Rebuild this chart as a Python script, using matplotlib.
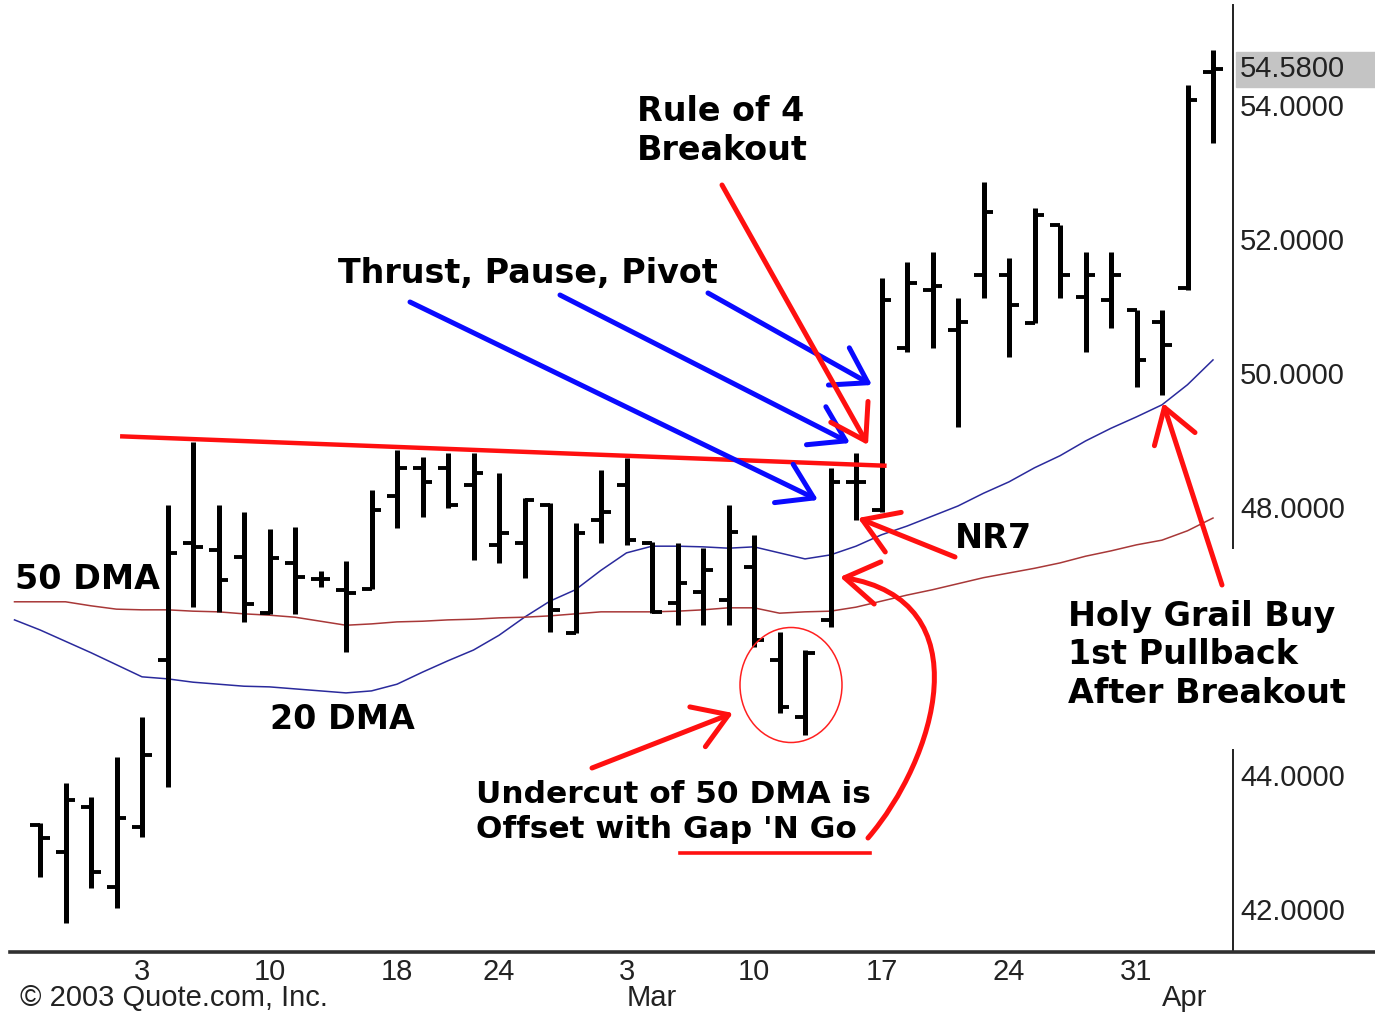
import matplotlib.pyplot as plt
from matplotlib.patches import FancyArrowPatch, Ellipse, ArrowStyle
from matplotlib.path import Path
import numpy as np

# daily OHLC bars, 28 Jan .. 3 Apr 2003
opens = [43.30, 42.90, 43.57, 42.37, 43.27, 45.76, 47.51, 47.40, 47.30, 46.46,
         47.21, 46.97, 46.81, 46.82, 48.21, 48.63, 48.63, 48.37, 47.48, 47.51,
         48.07, 46.16, 47.85, 48.37, 47.51, 46.61, 46.78, 46.66, 47.15, 45.76,
         44.91, 46.36, 48.42, 48.00, 50.42, 51.28, 50.69, 51.51, 51.51, 50.79,
         52.25, 51.18, 51.13, 50.99, 50.81, 51.31, 54.54]
highs = [43.33, 43.93, 43.72, 44.31, 44.91, 48.07, 49.01, 48.07, 47.97, 47.72,
         47.75, 47.09, 47.24, 48.30, 48.90, 48.79, 48.85, 48.85, 48.55, 48.18,
         48.10, 47.81, 48.60, 48.78, 47.52, 47.51, 47.43, 48.07, 47.63, 46.18,
         45.91, 48.63, 48.85, 51.46, 51.70, 51.85, 51.16, 52.90, 51.76, 52.51,
         52.25, 51.85, 51.85, 50.99, 50.99, 54.34, 54.87]
lows = [42.52, 41.84, 42.36, 42.06, 43.12, 43.87, 46.55, 46.48, 46.33, 46.45,
        46.45, 46.85, 45.88, 46.82, 47.73, 47.90, 48.03, 47.25, 47.21, 46.99,
        46.18, 46.16, 47.51, 47.48, 46.46, 46.28, 46.28, 46.28, 45.96, 44.97,
        44.64, 46.25, 47.85, 47.97, 50.36, 50.42, 49.24, 51.16, 50.28, 50.79,
        51.16, 50.36, 50.72, 49.84, 49.72, 51.28, 53.48]
closes = [43.10, 43.67, 42.60, 43.40, 44.34, 47.36, 47.45, 46.96, 46.60, 47.28,
          47.00, 46.97, 46.76, 48.00, 48.63, 48.42, 48.07, 48.55, 47.66, 48.15,
          46.51, 47.66, 47.97, 47.55, 46.48, 46.91, 47.10, 47.67, 46.06, 45.06,
          45.87, 48.42, 48.42, 51.13, 51.39, 51.34, 50.81, 52.45, 51.06, 52.40,
          51.51, 51.51, 51.51, 50.24, 50.46, 54.12, 54.58]

# moving averages, starting one session before the first bar
ma20 = [46.36, 46.21, 46.04, 45.87, 45.69, 45.51, 45.48, 45.43, 45.40, 45.37,
        45.36, 45.33, 45.30, 45.27, 45.30, 45.40, 45.58, 45.75, 45.91, 46.13,
        46.40, 46.64, 46.81, 47.10, 47.36, 47.46, 47.46, 47.45, 47.43, 47.45,
        47.36, 47.27, 47.33, 47.46, 47.63, 47.76, 47.91, 48.06, 48.25, 48.42,
        48.63, 48.81, 49.03, 49.22, 49.39, 49.57, 49.87, 50.24]
ma50 = [46.63, 46.63, 46.63, 46.57, 46.52, 46.51, 46.51, 46.49, 46.48, 46.45,
        46.43, 46.40, 46.34, 46.28, 46.30, 46.33, 46.34, 46.36, 46.37, 46.39,
        46.40, 46.42, 46.45, 46.48, 46.48, 46.48, 46.49, 46.51, 46.54, 46.54,
        46.46, 46.48, 46.49, 46.55, 46.64, 46.73, 46.81, 46.90, 46.99, 47.06,
        47.13, 47.21, 47.31, 47.39, 47.48, 47.55, 47.69, 47.88]

# resistance line drawn across the highs
resistance_x = [3.14, 33.2]
resistance_y = [49.10, 48.66]

day_ticks = [4, 9, 14, 18, 23, 28, 33, 38, 43]
day_labels = ['3', '10', '18', '24', '3', '10', '17', '24', '31']
month_ticks = [23, 44]
month_labels = ['Mar', 'Apr']
price_ticks = [42, 44, 48, 50, 52, 54]
last_price = closes[-1]

W, H = 1375, 1016
fig = plt.figure(figsize=(W / 100, H / 100), dpi=100)
ax = fig.add_axes([0, 0, 1, 1])
ax.set_xlim(-40 / 25.5, (W - 40) / 25.5)
ax.set_ylim(42 - (H - 912) / 67, 42 + 912 / 67)
ax.axis('off')

inv = ax.transData.inverted()


def px(x, y):
    # screen position (top-left origin) -> data coords
    return tuple(inv.transform((x, H - y)))


x = np.arange(len(closes))
xm = np.arange(-1, len(ma20) - 1)

ax.plot(xm, ma20, color='#2a2a9c', lw=1.1, zorder=2)
ax.plot(xm, ma50, color='#a83838', lw=1.1, zorder=2)

bars = ax.vlines(x, lows, highs, color='black', lw=3.6, zorder=3)
bars.set_capstyle('butt')
ax.hlines(opens, x - 0.38, x, color='black', lw=2.8, zorder=3)
ax.hlines(closes, x, x + 0.38, color='black', lw=2.8, zorder=3)

ax.plot(resistance_x, resistance_y, color='#ff1010', lw=3.2,
        solid_capstyle='butt', zorder=4)

# axes lines
x_axis = px(1233, 0)[0]
ax.plot([px(10, 0)[0], px(W, 0)[0]], [px(0, 952)[1]] * 2,
        color='#303030', lw=2.6, zorder=5)
ax.plot([x_axis, x_axis], [px(0, 5)[1], px(0, 548)[1]], color='#202020', lw=1.4)
ax.plot([x_axis, x_axis], [px(0, 750)[1], px(0, 952)[1]], color='#202020', lw=1.4)

tick_font = dict(family=['Liberation Sans', 'DejaVu Sans'], fontsize=21,
                 color='#222222')
lx = px(1240, 0)[0]
for p in price_ticks:
    ax.text(lx, p, f'{p:.4f}', ha='left', va='center', **tick_font)
ax.axhspan(last_price - 0.26, last_price + 0.26, xmin=1236 / W, xmax=1.0,
           color='#c4c4c4', zorder=1)
ax.text(lx, last_price, f'{last_price:.4f}', ha='left', va='center', **tick_font)

yd = px(0, 972)[1]
ym = px(0, 998)[1]
for t, lab in zip(day_ticks, day_labels):
    ax.text(t, yd, lab, ha='center', va='center', **tick_font)
for t, lab in zip(month_ticks, month_labels):
    ax.text(t, ym, lab, ha='left', va='center', **tick_font)
ax.text(*px(20, 998), '\u00a9 2003 Quote.com, Inc.', ha='left', va='center',
        **tick_font)

# annotations
note = dict(family='DejaVu Sans', fontweight='bold', fontsize=24, color='black',
            zorder=6)
ax.text(*px(637, 131), 'Rule of 4\nBreakout', ha='left', va='center',
        linespacing=1.2, **note)
ax.text(*px(338, 273), 'Thrust, Pause, Pivot', ha='left', va='center', **note)
ax.text(*px(15, 580), '50 DMA', ha='left', va='center', **note)
ax.text(*px(270, 720), '20 DMA', ha='left', va='center', **note)
ax.text(*px(955, 538), 'NR7', ha='left', va='center', **note)
ax.text(*px(1068, 655), 'Holy Grail Buy\n1st Pullback\nAfter Breakout',
        ha='left', va='center', linespacing=1.22, **note)
ax.text(*px(476, 812), "Undercut of 50 DMA is\nOffset with Gap 'N Go",
        ha='left', va='center', linespacing=1.22,
        **{**note, 'fontsize': 22.5})

head = ArrowStyle('->', head_length=0.75, head_width=0.48)


def arrow(p0, p1, color):
    a = FancyArrowPatch(px(*p0), px(*p1), arrowstyle=head, mutation_scale=32,
                        color=color, lw=3.6, shrinkA=0, shrinkB=0, zorder=7)
    ax.add_patch(a)


arrow((410, 302), (818, 500), '#0a0aff')
arrow((560, 295), (850, 443), '#0a0aff')
arrow((708, 293), (872, 385), '#0a0aff')
arrow((722, 185), (868, 445), '#ff1010')
arrow((955, 557), (858, 518), '#ff1010')
arrow((1222, 585), (1163, 403), '#ff1010')
arrow((592, 768), (733, 713), '#ff1010')

curve = Path([px(868, 838), px(935, 760), px(985, 600), px(840, 577)],
             [Path.MOVETO, Path.CURVE4, Path.CURVE4, Path.CURVE4])
ax.add_patch(FancyArrowPatch(path=curve, arrowstyle=head, mutation_scale=32,
                             color='#ff1010', lw=3.6, zorder=7))

ax.plot([px(680, 0)[0], px(870, 0)[0]], [px(0, 853)[1]] * 2, color='#ff1010',
        lw=2.6, zorder=7)

cx, cy = px(791, 685)
ax.add_patch(Ellipse((cx, cy), 102 / 25.5, 115 / 67, fill=False,
                     ec='#ff2020', lw=1.1, zorder=7))

fig.savefig('out.png', dpi=100, facecolor='white')
